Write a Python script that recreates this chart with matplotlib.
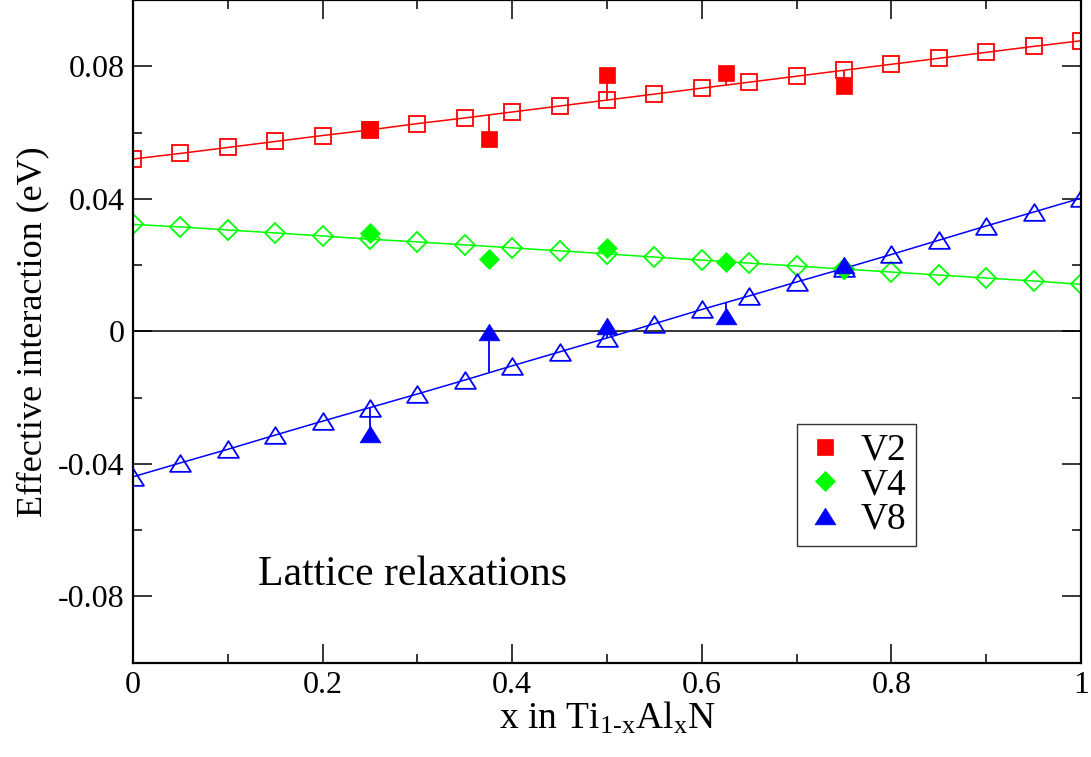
import numpy as np
import matplotlib
matplotlib.use("Agg")
import matplotlib.pyplot as plt
from matplotlib.path import Path

plt.rcParams['font.family'] = ['Liberation Serif', 'DejaVu Serif']
plt.rcParams['mathtext.fontset'] = 'custom'
plt.rcParams['mathtext.rm'] = 'Liberation Serif'
plt.rcParams['mathtext.it'] = 'Liberation Serif'

# ---- data ----
x_fit = [0.00, 0.05, 0.10, 0.15, 0.20, 0.25, 0.30, 0.35, 0.40, 0.45, 0.50,
         0.55, 0.60, 0.65, 0.70, 0.75, 0.80, 0.85, 0.90, 0.95, 1.00]
v2_fit = [0.0520, 0.0537, 0.0555, 0.0573, 0.0591, 0.0608, 0.0627, 0.0644, 0.0662, 0.0680, 0.0698,
          0.0716, 0.0734, 0.0752, 0.0770, 0.0788, 0.0806, 0.0824, 0.0842, 0.0860, 0.0877]
v4_fit = [0.0323, 0.0315, 0.0306, 0.0297, 0.0288, 0.0278, 0.0270, 0.0261, 0.0252, 0.0243, 0.0234,
          0.0224, 0.0215, 0.0206, 0.0197, 0.0188, 0.0179, 0.0170, 0.0161, 0.0152, 0.0142]
v8_fit = [-0.0439, -0.0397, -0.0356, -0.0313, -0.0271, -0.0230, -0.0189, -0.0147, -0.0104, -0.0062, -0.0020,
          0.0023, 0.0066, 0.0107, 0.0149, 0.0190, 0.0232, 0.0275, 0.0318, 0.0360, 0.0402]

x_calc = [0.25, 0.375, 0.5, 0.625, 0.75]
v2_calc = [0.0612, 0.0582, 0.0775, 0.0781, 0.0740]
v4_calc = [0.0297, 0.0219, 0.0252, 0.0210, 0.0188]
v8_calc = [-0.0310, -0.0003, 0.0015, 0.0045, 0.0199]

x_ticks = [0, 0.2, 0.4, 0.6, 0.8, 1.0]
x_ticklabels = ['0', '0.2', '0.4', '0.6', '0.8', '1']
y_ticks = [-0.08, -0.04, 0.0, 0.04, 0.08]
y_ticklabels = ['-0.08', '-0.04', '0', '0.04', '0.08']

RED, GREEN, BLUE = '#ff0000', '#00ff00', '#0000ff'

tri = Path([(0, 0.8), (-1, -0.8), (1, -0.8), (0, 0.8)],
           [Path.MOVETO, Path.LINETO, Path.LINETO, Path.CLOSEPOLY])

fig = plt.figure(figsize=(10.91, 7.57), dpi=100)
ax = fig.add_axes([133 / 1091, (757 - 662.7) / 757, 948 / 1091, 662.7 / 757])

ax.axhline(0, color='black', lw=1.1, zorder=1)

lw = 1.1
series = [
    (v2_fit, v2_calc, RED, 's', 11.2, 11.8, 'V2', True),
    (v4_fit, v4_calc, GREEN, 'D', 9.8, 10.4, 'V4', False),
    (v8_fit, v8_calc, BLUE, tri, 15.0, 15.0, 'V8', True),
]
handles = []
for fit, calc, col, mk, ms_open, ms_fill, lab, drop in series:
    ax.plot(x_fit, fit, color=col, lw=lw, marker=mk, ms=ms_open, mfc='none',
            mec=col, mew=1.3, zorder=2)
    if drop:
        base = np.interp(x_calc, x_fit, fit)
        ax.vlines(x_calc, base, calc, color=col, lw=1.3, zorder=2)
    h, = ax.plot(x_calc, calc, ls='none', marker=mk, ms=ms_fill, mfc=col, mec=col,
                 mew=0.5, zorder=3, label=lab)
    handles.append(h)

ax.set_xlim(0, 1)
ax.set_ylim(-0.1, 0.1)
ax.set_xticks(x_ticks)
ax.set_xticklabels(x_ticklabels)
ax.set_yticks(y_ticks)
ax.set_yticklabels(y_ticklabels)
ax.set_xticks(np.arange(0.1, 1.0, 0.2), minor=True)
ax.set_yticks(np.arange(-0.06, 0.1, 0.04), minor=True)
ax.tick_params(which='both', direction='in', top=True, right=True, labelsize=23,
               width=1.1, pad=6)
ax.tick_params(which='major', length=13.5)
ax.tick_params(which='minor', length=6.7)
for s in ax.spines.values():
    s.set_linewidth(1.6)

ax.set_xlabel(r'x in Ti$_{\mathrm{1\text{-}x}}$Al$_{\mathrm{x}}$N', fontsize=27, labelpad=0)
ax.set_ylabel('Effective interaction (eV)', fontsize=26, labelpad=6)

ax.text(0.132, -0.0764, 'Lattice relaxations', fontsize=30, ha='left', va='baseline')

leg = ax.legend(handles=handles, loc='upper left', bbox_to_anchor=((797 - 133) / 948, 1 - 424 / 662.7),
                fontsize=27, frameon=True, fancybox=False, edgecolor='black',
                handlelength=1.0, handletextpad=0.45, borderpad=0.25, labelspacing=0.0,
                borderaxespad=0, markerscale=1.0)
leg.get_frame().set_linewidth(1.0)

fig.savefig('out.png', dpi=100)
